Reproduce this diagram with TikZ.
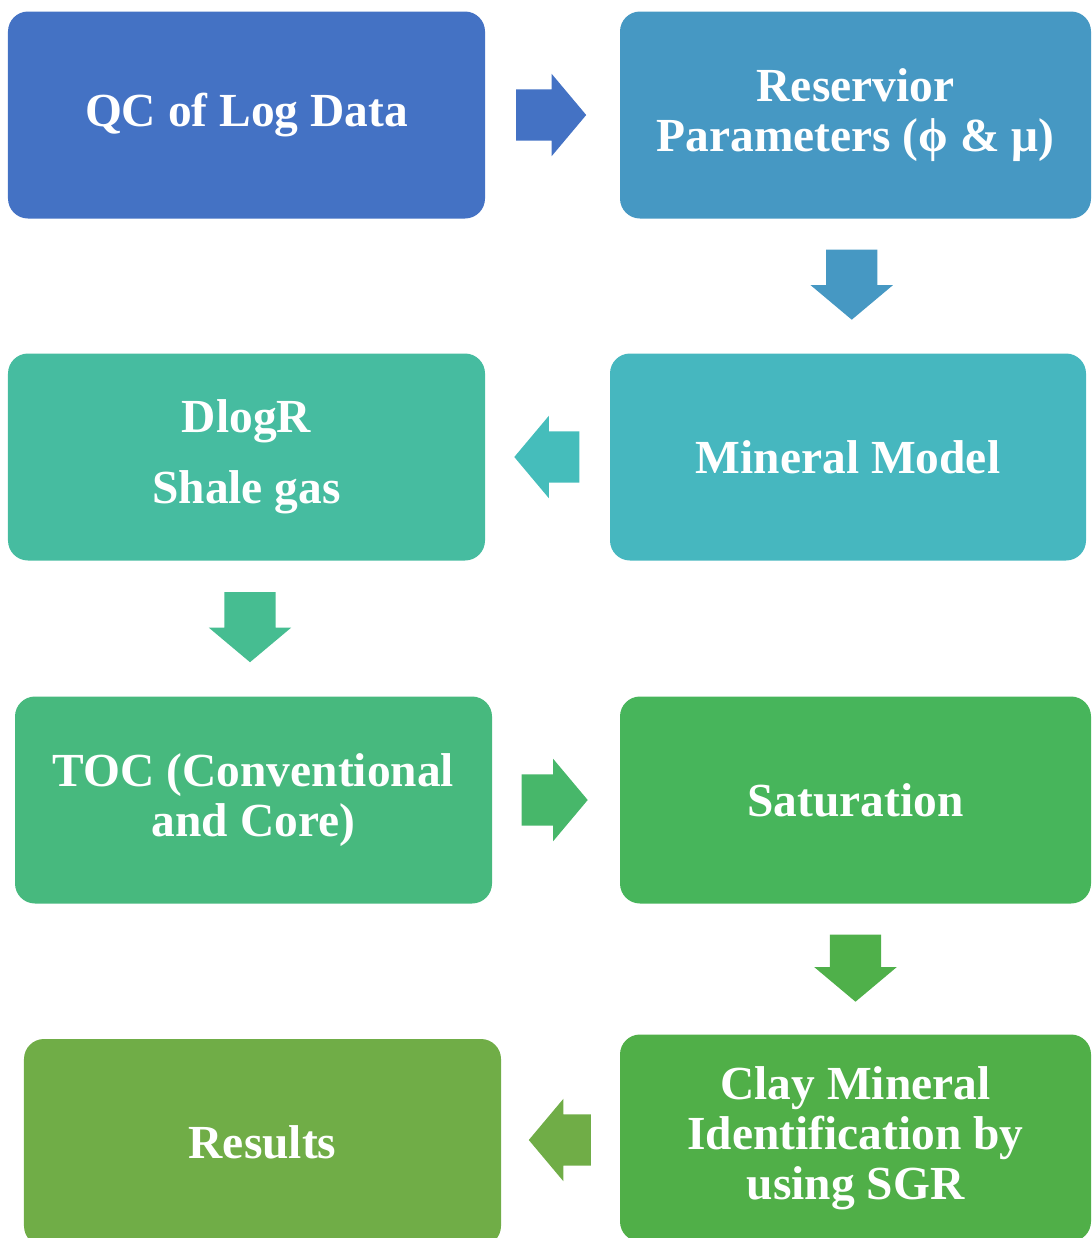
\documentclass[tikz,border=0pt]{standalone}
\usepackage{fontspec}
\setmainfont{Liberation Serif}
\usetikzlibrary{shapes.arrows,calc}

\definecolor{QCBlue}{HTML}{4472C4}
\definecolor{ResBlue}{HTML}{4698C3}
\definecolor{DlogTeal}{HTML}{46BCA0}
\definecolor{MinTeal}{HTML}{46B7BF}
\definecolor{MinArrow}{HTML}{45BDBB}
\definecolor{DlogArrow}{HTML}{46BD91}
\definecolor{TocGreen}{HTML}{47B97E}
\definecolor{TocArrow}{HTML}{47B76A}
\definecolor{SatGreen}{HTML}{47B55B}
\definecolor{SatArrow}{HTML}{4FB04A}
\definecolor{ClayGreen}{HTML}{50AF48}
\definecolor{ResultGreen}{HTML}{70AD47}

\begin{document}
\begin{tikzpicture}[
    process/.style={rectangle, rounded corners=2mm, minimum width=4.77cm,
        minimum height=2.07cm, inner sep=0pt, text=white, align=center,
        font=\fontsize{13.5}{14.2}\selectfont\bfseries},
    flow/.style={single arrow, single arrow head extend=0.155cm,
        single arrow tip angle=100, minimum height=0.70cm,
        inner xsep=0pt, inner ysep=0.25cm, anchor=tail}
]
\useasboundingbox (0,0) rectangle (10.92,-12.38);

\node (QC) [process, fill=QCBlue] at (2.465,-1.15) {QC of Log Data};
\node (Reservoir) [process, fill=ResBlue, minimum width=4.71cm] at (8.555,-1.15)
    {Reservior\\Parameters (ϕ \& μ)};
\node (Mineral) [process, fill=MinTeal, minimum width=4.76cm] at (8.48,-4.57) {Mineral Model};
\node (DlogR) [process, fill=DlogTeal] at (2.465,-4.57) {DlogR\\[6pt]Shale gas};
\node (TOC) [process, fill=TocGreen] at (2.535,-8.00) {TOC (Conventional\\and Core)};
\node (Saturation) [process, fill=SatGreen, minimum width=4.71cm] at (8.555,-8.00) {Saturation};
\node (Clay) [process, fill=ClayGreen, minimum width=4.71cm] at (8.555,-11.38)
    {Clay Mineral\\Identification by\\using SGR};
\node (Results) [process, fill=ResultGreen] at (2.625,-11.425) {Results};

\node (Flow01) [flow, fill=QCBlue]
    at ($(QC.east)!0.5!(Reservoir.west)+(-0.37,0)$) {};
\node (Flow02) [flow, fill=ResBlue, rotate=-90]
    at ($(Reservoir.south)!0.5!(Mineral.north)+(0,0.37)$) {};
\node (Flow03) [flow, fill=MinArrow, rotate=180, minimum height=0.65cm]
    at ($(Mineral.west)!0.5!(DlogR.east)+(0.325,0)$) {};
\node (Flow04) [flow, fill=DlogArrow, rotate=-90]
    at ($(DlogR.south)!0.5!(TOC.north)+(0,0.37)$) {};
\node (Flow05) [flow, fill=TocArrow, minimum height=0.66cm]
    at ($(TOC.east)!0.5!(Saturation.west)+(-0.35,0)$) {};
\node (Flow06) [flow, fill=SatArrow, rotate=-90, minimum height=0.67cm]
    at ($(Saturation.south)!0.5!(Clay.north)+(0,0.35)$) {};
\node (Flow07) [flow, fill=ResultGreen, rotate=180, minimum height=0.62cm]
    at ($(Clay.west |- 0,-11.40)!0.5!(Results.east |- 0,-11.40)+(0.31,0)$) {};

\end{tikzpicture}
\end{document}
